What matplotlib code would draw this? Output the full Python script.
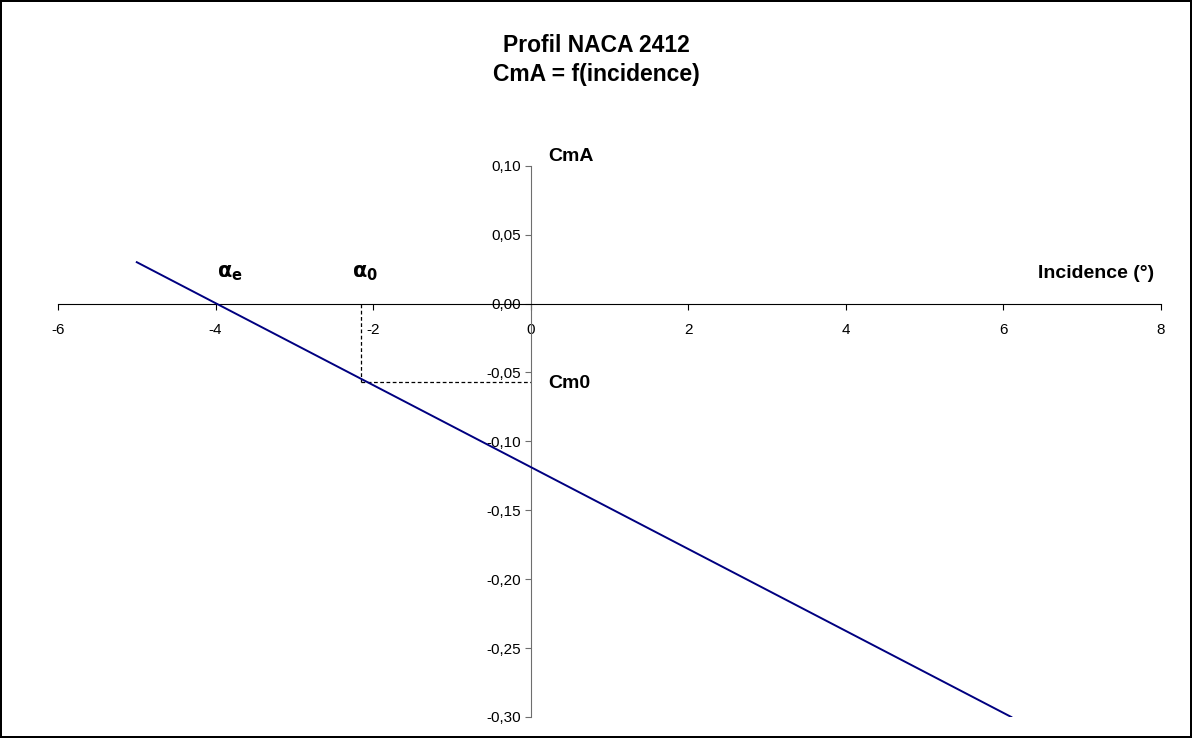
import numpy as np
import matplotlib.pyplot as plt
from matplotlib.ticker import FuncFormatter

plt.rcParams['font.family'] = ['Liberation Sans', 'DejaVu Sans']

# droite CmA = f(incidence)
incidence = [-5.0, 6.1]
cma = [0.030, -0.300]

# point alpha0 / Cm0
alpha0 = -2.15
cm0 = -0.057

x_ticks = [-6, -4, -2, 0, 2, 4, 6, 8]
y_ticks = [-0.30, -0.25, -0.20, -0.15, -0.10, -0.05, 0.00, 0.05, 0.10]

fig = plt.figure(figsize=(11.92, 7.38), dpi=100)
fig.patch.set_edgecolor('black')
fig.patch.set_linewidth(1.5)
ax = fig.add_axes([58 / 1192, 21 / 738, (1161 - 58) / 1192, (717 - 165.7) / 738])

ax.plot(incidence, cma, color='#000080', lw=1.4, zorder=3)
ax.plot([alpha0, alpha0], [0, cm0], color='black', ls=(0, (3, 2)), lw=0.9)
ax.plot([alpha0, 0], [cm0, cm0], color='black', ls=(0, (3, 2)), lw=0.9)

ax.set_xlim(-6, 8)
ax.set_ylim(-0.30, 0.10)
ax.set_xticks(x_ticks)
ax.set_yticks(y_ticks)
ax.xaxis.set_major_formatter(FuncFormatter(lambda v, p: f"{v:g}"))
ax.yaxis.set_major_formatter(FuncFormatter(lambda v, p: f"{v:.2f}".replace('.', ',')))

for s in ['top', 'right']:
    ax.spines[s].set_visible(False)
ax.spines['left'].set_position(('data', 0))
ax.spines['bottom'].set_position(('data', 0))
ax.spines['left'].set_color('#6e6e6e')
ax.spines['bottom'].set_color('black')
ax.tick_params(axis='x', direction='out', length=4, labelsize=11, pad=10, color='black')
ax.tick_params(axis='y', direction='out', length=4, labelsize=11, pad=3, color='#6e6e6e')
ax.patch.set_visible(False)

fig.text(0.5, 1 - 45 / 738, "Profil NACA 2412", ha='center', va='center',
         fontsize=16.5, fontweight='bold')
fig.text(0.5, 1 - 74 / 738, "CmA = f(incidence)", ha='center', va='center',
         fontsize=16.5, fontweight='bold')

ax.text(0.22, 0.107, "CmA", fontsize=14, fontweight='bold', ha='left', va='center')
ax.text(7.91, 0.0217, "Incidence (°)", fontsize=14, fontweight='bold', ha='right', va='center')
ax.text(0.22, -0.058, "Cm0", fontsize=14, fontweight='bold', ha='left', va='center')
ax.text(-3.82, 0.0217, r"$\mathbf{\alpha_e}$", fontsize=15, ha='center', va='center')
ax.text(-2.10, 0.0217, r"$\mathbf{\alpha_0}$", fontsize=15, ha='center', va='center')

fig.savefig("out.png", dpi=100, edgecolor=fig.get_edgecolor())
